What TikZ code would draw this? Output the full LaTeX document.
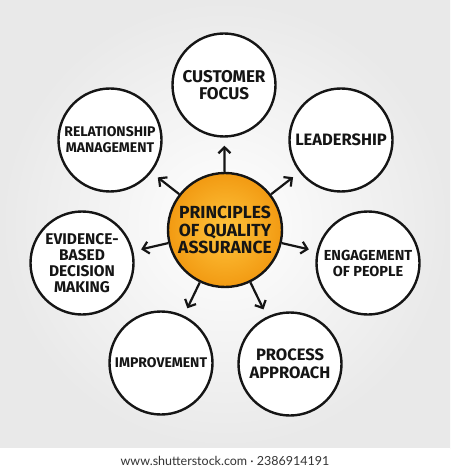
\documentclass[tikz,border=0pt]{standalone}
\usepackage{fontspec}
\setmainfont{Fira Sans}
\setsansfont{Fira Sans}
\newfontfamily\footfont{Lato}
\usepackage{tikz}
\usetikzlibrary{arrows.meta}
\definecolor{ink}{HTML}{151515}
\definecolor{amber}{HTML}{F29A12}
\definecolor{sun}{HTML}{FFC53D}
\definecolor{haze}{HTML}{E9E9E9}

\begin{document}
\begin{tikzpicture}[
  x=1pt, y=-1pt,
  font=\bfseries\fontsize{15.5}{16}\selectfont,
  topic/.style={draw=ink, circle, line width=2.4pt, fill=white, minimum size=103pt, inner sep=0pt, align=center, text=ink},
  core/.style={draw=ink, circle, line width=2.4pt, inner color=sun, outer color=amber, minimum size=114pt, inner sep=0pt, align=center, text=ink, font=\bfseries\fontsize{17.5}{17.5}\selectfont},
  arrow/.style={-{Straight Barb[length=6pt,width=12pt]}, line width=2.2pt, draw=ink, shorten >=8pt}
]
  \useasboundingbox (0,0) rectangle (450,470);
  \shade[inner color=white, outer color=haze] (0,0) rectangle (450,448);
  \fill[white] (0,448) rectangle (450,470);
  \node[font=\footfont\fontsize{12.5}{14}\selectfont, text=black!80] (credit) at (225,461) {www.shutterstock.com · 2386914191};

  \node[core] (qa) at (225,230) {PRINCIPLES\\OF QUALITY\\ASSURANCE};

  \node[topic, font=\bfseries\fontsize{17}{17.5}\selectfont] (cf) at (224,85) {CUSTOMER\\FOCUS};
  \node[topic, font=\bfseries\fontsize{16.5}{16}\selectfont] (lead) at (341,140) {LEADERSHIP};
  \node[topic, font=\bfseries\fontsize{14.5}{16}\selectfont] (eng) at (368,263) {ENGAGEMENT\\OF PEOPLE};
  \node[topic, font=\bfseries\fontsize{16.5}{17.5}\selectfont] (proc) at (290,364) {PROCESS\\APPROACH};
  \node[topic, font=\bfseries\fontsize{14}{16}\selectfont] (impr) at (161,363) {IMPROVEMENT};
  \node[topic] (evid) at (82,263) {EVIDENCE-\\BASED\\DECISION\\MAKING};
  \node[topic, font=\bfseries\fontsize{14}{16}\selectfont] (rel) at (110,140) {RELATIONSHIP\\MANAGEMENT};

  \draw[arrow] (qa) -- (cf);
  \draw[arrow] (qa) -- (lead);
  \draw[arrow] (qa) -- (eng);
  \draw[arrow] (qa) -- (proc);
  \draw[arrow] (qa) -- (impr);
  \draw[arrow] (qa) -- (evid);
  \draw[arrow] (qa) -- (rel);
\end{tikzpicture}
\end{document}
